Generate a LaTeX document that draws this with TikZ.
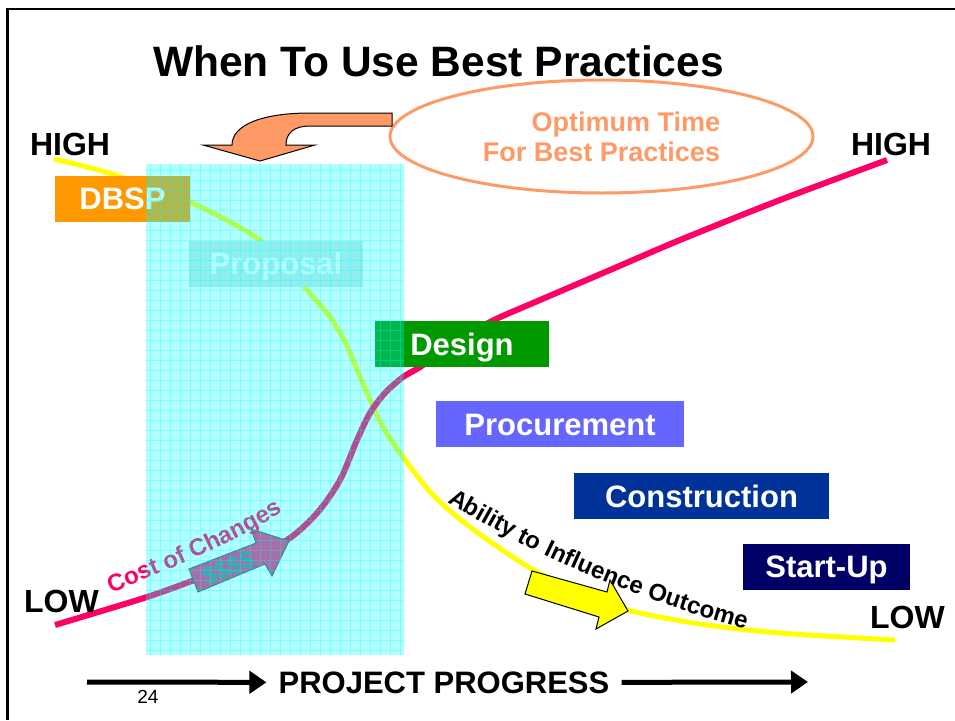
\documentclass[tikz,border=0pt]{standalone}
\usepackage{fontspec}
\setmainfont{Liberation Sans}
\usetikzlibrary{arrows.meta,shapes.geometric,decorations.text}
\definecolor{costpink}{RGB}{255,0,102}
\definecolor{costfill}{RGB}{240,48,134}
\definecolor{costedge}{RGB}{51,102,102}
\definecolor{dollarteal}{RGB}{51,153,153}
\definecolor{optorange}{RGB}{255,153,102}
\definecolor{dbsporange}{RGB}{255,153,0}
\definecolor{proposalgrey}{RGB}{205,232,232}
\definecolor{designgreen}{RGB}{0,153,0}
\definecolor{procureblue}{RGB}{102,102,255}
\definecolor{constructblue}{RGB}{0,51,153}
\definecolor{startupnavy}{RGB}{0,0,102}
\definecolor{influenceyellow}{RGB}{255,255,0}
\definecolor{windowcyan}{RGB}{0,255,255}
\begin{document}
\begin{tikzpicture}[x=1pt, y=-1pt,
    stage/.style={minimum height=46pt, inner sep=0pt, text=white,
      font=\fontsize{31}{31}\selectfont\bfseries, text height=22pt, text depth=0pt},
    level/.style={anchor=base, font=\fontsize{32}{32}\selectfont\bfseries},
    progress/.style={line width=5pt, -{Triangle[length=17pt,width=22pt]}}]
  \useasboundingbox (0,0) rectangle (955,720);
  \draw[line width=2.5pt] (7.5,720) -- (7.5,9) -- (955,9);

  % curves
  \draw[influenceyellow, line width=5pt] plot[smooth] coordinates {(54,159) (112,174)
    (190,202) (257,238) (290,270) (307,290) (330,317) (345,342) (355,365)
    (367,393) (383,427) (403,457) (433,495) (470,527) (530,568) (580,592)
    (627,610) (700,624) (780,633) (895,640)};
  \draw[costpink, line width=6pt] plot[smooth] coordinates {(55,625) (147,597)
    (200,578) (250,560) (290,538) (318,512) (340,480) (357,440) (370,413)
    (385,393) (403,377) (420,367) (455,343) (492,321) (540,300) (610,270)
    (680,240) (780,200) (887,160)};

  % stages
  \node[stage, fill=dbsporange, minimum width=135pt] (dbsp) at (122.5,198.5) {DBSP};
  \node[stage, fill=proposalgrey, minimum width=174pt] (proposal) at (276,263.5) {Proposal};
  \node[stage, fill=designgreen, minimum width=174pt] (design) at (462,344) {Design};
  \node[stage, fill=procureblue, minimum width=248pt] (procure) at (560,424) {Procurement};
  \node[stage, fill=constructblue, minimum width=255pt] (construct) at (701.5,496) {Construction};
  \node[stage, fill=startupnavy, minimum width=167pt] (startup) at (826.5,566.5) {Start-Up};

  % arrows on the curves
  \filldraw[fill=costfill, draw=costedge, line width=1pt] (198,592) -- (189,569)
    -- (256,543) -- (251,529) -- (289,541) -- (272,576) -- (265,564) -- cycle;
  \node[rotate=22, text=dollarteal, font=\fontsize{24}{24}\selectfont\bfseries]
    (dollars) at (228,568) {\$\$\$\$};
  \filldraw[fill=influenceyellow, draw=black, line width=1pt] (532,571) -- (607,592)
    -- (610,580) -- (628,611) -- (596,629) -- (599,617) -- (525,594) -- cycle;

  \path[decorate, decoration={text along path, text align=left, text color=costpink,
      text={|\fontsize{24}{24}\selectfont\bfseries|Cost of Changes}}]
    (111,593) .. controls (170,569) and (230,546) .. (300,502);
  \path[decorate, decoration={text along path, text align=left, text color=black,
      text={|\fontsize{24}{24}\selectfont\bfseries|Ability to Influence Outcome}}]
    (447,502) .. controls (520,545) and (610,595) .. (785,640);

  % optimum time
  \node[ellipse, draw=optorange, line width=3pt, minimum width=423pt, minimum height=113pt,
    align=right, text=optorange, font=\fontsize{27}{30}\selectfont\bfseries]
    (optimum) at (601.5,136.5) {Optimum Time\\For Best Practices};
  \filldraw[fill=optorange, draw=black, line width=1pt] (392,113) -- (310,113)
    .. controls (262,113) and (232,125) .. (232,145) -- (203,145) -- (260,161)
    -- (315,145) -- (286,145) .. controls (286,133) and (294,126) .. (310,126)
    -- (392,126) -- cycle;

  % window
  \fill[windowcyan, fill opacity=0.3] (146,164) rectangle (404,655);
  \draw[windowcyan, draw opacity=0.3, line width=0.7pt, step=10pt] (146,164) grid (404,655);

  % labels
  \node[anchor=base, font=\fontsize{42.5}{42.5}\selectfont\bfseries] (title) at (438.5,76)
    {When To Use Best Practices};
  \node[level] (highL) at (70,155) {HIGH};
  \node[level] (highR) at (891,155) {HIGH};
  \node[level] (lowL) at (61.5,612) {LOW};
  \node[level] (lowR) at (907.5,628) {LOW};
  \node[anchor=base, inner sep=12pt, font=\fontsize{31}{31}\selectfont\bfseries]
    (progress) at (444,693) {PROJECT PROGRESS};
  \node[anchor=base, font=\fontsize{19}{19}\selectfont] (pagenum) at (148,703) {24};

  \coordinate (pstart) at (87,682);
  \coordinate (pend) at (808,682);
  \draw[progress] (pstart) -- (progress.west);
  \draw[progress] (progress.east) -- (pend);
\end{tikzpicture}
\end{document}
